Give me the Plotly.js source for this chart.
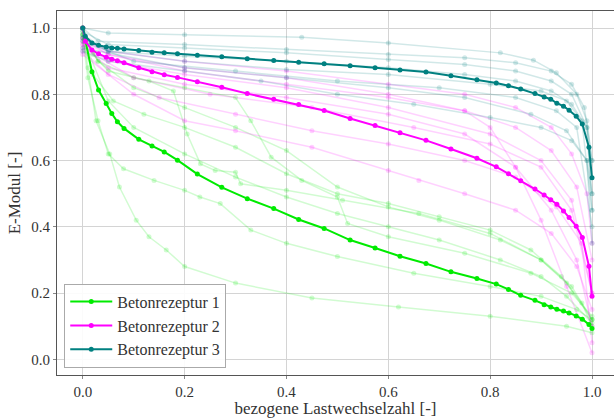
<!DOCTYPE html>
<html>
<head>
<meta charset="utf-8">
<script src="https://cdn.plot.ly/plotly-3.0.1.min.js"></script>
<style>html,body{margin:0;padding:0;background:#fff;}#chart{width:614px;height:418px;}</style>
</head>
<body>
<div id="chart"></div>
<script>
// ---- Mean curves (shared x positions) ----
const mean_x = [0, 0.005, 0.018, 0.031, 0.046, 0.057, 0.068, 0.081, 0.11, 0.136, 0.16, 0.186, 0.225, 0.273, 0.323, 0.375, 0.424, 0.474, 0.525, 0.574, 0.623, 0.674, 0.723, 0.774, 0.812, 0.836, 0.86, 0.888, 0.906, 0.919, 0.931, 0.944, 0.955, 0.969, 0.981, 0.994, 1.0];
const mean1_y = [1.0, 0.964, 0.868, 0.813, 0.772, 0.742, 0.717, 0.697, 0.664, 0.644, 0.626, 0.601, 0.559, 0.519, 0.485, 0.455, 0.422, 0.395, 0.36, 0.336, 0.311, 0.289, 0.264, 0.244, 0.227, 0.211, 0.193, 0.178, 0.165, 0.158, 0.151, 0.146, 0.14, 0.131, 0.121, 0.105, 0.093];
const mean2_y = [1.0, 0.96, 0.934, 0.922, 0.912, 0.906, 0.901, 0.895, 0.88, 0.868, 0.859, 0.851, 0.838, 0.821, 0.802, 0.785, 0.769, 0.751, 0.727, 0.706, 0.684, 0.661, 0.635, 0.607, 0.581, 0.56, 0.539, 0.514, 0.496, 0.482, 0.468, 0.448, 0.428, 0.402, 0.368, 0.281, 0.19];
const mean3_y = [1.0, 0.975, 0.955, 0.948, 0.943, 0.94, 0.939, 0.937, 0.932, 0.927, 0.925, 0.922, 0.918, 0.913, 0.907, 0.902, 0.897, 0.892, 0.886, 0.88, 0.873, 0.867, 0.856, 0.844, 0.834, 0.826, 0.816, 0.802, 0.792, 0.785, 0.773, 0.764, 0.752, 0.734, 0.71, 0.64, 0.548];

const seriesNames = ["Betonrezeptur 1", "Betonrezeptur 2", "Betonrezeptur 3"];
const xTicks = [0.0, 0.2, 0.4, 0.6, 0.8, 1.0];
const yTicks = [0.0, 0.2, 0.4, 0.6, 0.8, 1.0];

// ---- Individual specimens, Betonrezeptur 1 ----
const g1_x = [0, 0.01, 0.026, 0.053, 0.072, 0.105, 0.13, 0.164, 0.2, 0.3, 0.45, 0.62, 0.8, 0.95, 1.0];
const g1_y = [0.98, 0.88, 0.72, 0.62, 0.52, 0.42, 0.37, 0.33, 0.28, 0.23, 0.185, 0.158, 0.13, 0.1, 0.08];
const g2_x = [0, 0.01, 0.03, 0.05, 0.08, 0.14, 0.2, 0.23, 0.27, 0.33, 0.4, 0.5, 0.65, 0.8, 0.9, 0.97, 1.0];
const g2_y = [0.97, 0.85, 0.72, 0.62, 0.575, 0.54, 0.51, 0.49, 0.47, 0.39, 0.35, 0.31, 0.26, 0.22, 0.19, 0.15, 0.12];
const g3_x = [0, 0.02, 0.05, 0.13, 0.178, 0.205, 0.231, 0.26, 0.3, 0.31, 0.4, 0.51, 0.66, 0.8, 0.9, 0.96, 1.0];
const g3_y = [0.98, 0.92, 0.87, 0.84, 0.81, 0.68, 0.59, 0.57, 0.565, 0.53, 0.51, 0.48, 0.44, 0.38, 0.3, 0.22, 0.12];
const g4_x = [0, 0.03, 0.1, 0.2, 0.3, 0.33, 0.37, 0.43, 0.5, 0.52, 0.6, 0.75, 0.88, 0.96, 1.0];
const g4_y = [0.99, 0.9, 0.85, 0.82, 0.79, 0.72, 0.61, 0.54, 0.49, 0.41, 0.37, 0.32, 0.26, 0.2, 0.13];
const g5_x = [0, 0.03, 0.1, 0.2, 0.3, 0.4, 0.5, 0.6, 0.7, 0.82, 0.9, 0.95, 1.0];
const g5_y = [0.98, 0.9, 0.82, 0.76, 0.7, 0.63, 0.52, 0.46, 0.42, 0.36, 0.3, 0.23, 0.12];
const g6_x = [0, 0.05, 0.1, 0.2, 0.3, 0.4, 0.5, 0.6, 0.7, 0.82, 0.9, 0.95, 1.0];
const g6_y = [0.97, 0.78, 0.7, 0.62, 0.55, 0.49, 0.44, 0.4, 0.36, 0.3, 0.25, 0.19, 0.11];
const g7_x = [0, 0.02, 0.06, 0.12, 0.2, 0.3, 0.4, 0.5, 0.6, 0.7, 0.8, 0.88, 0.94, 0.98, 1.0];
const g7_y = [0.96, 0.86, 0.78, 0.74, 0.7, 0.64, 0.56, 0.5, 0.47, 0.43, 0.39, 0.33, 0.25, 0.17, 0.1];

// ---- Individual specimens, Betonrezeptur 2 ----
const m1_x = [0, 0.05, 0.2, 0.4, 0.6, 0.75, 0.85, 0.92, 0.96, 0.99, 1.0];
const m1_y = [0.97, 0.93, 0.9, 0.87, 0.83, 0.8, 0.76, 0.7, 0.62, 0.5, 0.35];
const m2_x = [0, 0.05, 0.2, 0.4, 0.6, 0.75, 0.85, 0.92, 0.97, 1.0];
const m2_y = [0.96, 0.92, 0.88, 0.85, 0.8, 0.75, 0.7, 0.63, 0.52, 0.3];
const m3_x = [0, 0.05, 0.2, 0.4, 0.6, 0.8, 0.9, 0.96, 1.0];
const m3_y = [0.95, 0.9, 0.86, 0.82, 0.76, 0.68, 0.6, 0.48, 0.2];
const m4_x = [0, 0.05, 0.2, 0.4, 0.6, 0.75, 0.85, 0.92, 0.97, 1.0];
const m4_y = [0.95, 0.88, 0.83, 0.79, 0.74, 0.68, 0.58, 0.45, 0.3, 0.1];
const m5_x = [0, 0.1, 0.25, 0.45, 0.65, 0.8, 0.9, 0.96, 1.0];
const m5_y = [0.94, 0.85, 0.8, 0.76, 0.7, 0.65, 0.58, 0.45, 0.2];
const m6_x = [0, 0.05, 0.15, 0.3, 0.45, 0.6, 0.75, 0.85, 0.93, 0.98, 1.0];
const m6_y = [0.93, 0.86, 0.79, 0.74, 0.69, 0.65, 0.6, 0.55, 0.46, 0.35, 0.05];
const m7_x = [0, 0.1, 0.2, 0.3, 0.45, 0.6, 0.66, 0.75, 0.85, 0.92, 0.97, 1.0];
const m7_y = [0.92, 0.8, 0.72, 0.69, 0.64, 0.57, 0.54, 0.5, 0.45, 0.38, 0.28, 0.15];
const m8_x = [0, 0.05, 0.2, 0.4, 0.6, 0.75, 0.8, 0.85, 0.9, 0.95, 1.0];
const m8_y = [0.97, 0.92, 0.87, 0.83, 0.79, 0.75, 0.7, 0.58, 0.42, 0.22, 0.02];

// ---- Individual specimens, Betonrezeptur 3 ----
const t1_x = [0, 0.05, 0.2, 0.43, 0.6, 0.82, 0.885, 0.93, 0.97, 0.99, 1.0];
const t1_y = [1.0, 0.985, 0.98, 0.972, 0.955, 0.925, 0.903, 0.865, 0.8, 0.72, 0.6];
const t2_x = [0, 0.03, 0.2, 0.4, 0.6, 0.75, 0.85, 0.92, 0.96, 0.985, 1.0];
const t2_y = [1.0, 0.96, 0.95, 0.935, 0.92, 0.91, 0.895, 0.87, 0.83, 0.76, 0.6];
const t3_x = [0, 0.05, 0.2, 0.4, 0.6, 0.75, 0.85, 0.92, 0.96, 0.99, 1.0];
const t3_y = [0.99, 0.95, 0.94, 0.925, 0.905, 0.89, 0.87, 0.84, 0.8, 0.7, 0.5];
const t4_x = [0, 0.05, 0.2, 0.4, 0.6, 0.8, 0.9, 0.95, 0.98, 1.0];
const t4_y = [0.98, 0.93, 0.9, 0.875, 0.86, 0.83, 0.81, 0.78, 0.72, 0.45];
const t5_x = [0, 0.05, 0.2, 0.35, 0.5, 0.65, 0.8, 0.9, 0.96, 0.99, 1.0];
const t5_y = [0.93, 0.9, 0.87, 0.84, 0.8, 0.77, 0.73, 0.7, 0.66, 0.6, 0.5];
const t6_x = [0, 0.05, 0.2, 0.4, 0.6, 0.75, 0.85, 0.92, 0.96, 0.99, 1.0];
const t6_y = [0.97, 0.93, 0.915, 0.9, 0.88, 0.86, 0.84, 0.81, 0.77, 0.7, 0.45];
const t7_x = [0, 0.1, 0.3, 0.5, 0.7, 0.85, 0.93, 0.97, 1.0];
const t7_y = [0.96, 0.9, 0.87, 0.84, 0.82, 0.79, 0.75, 0.7, 0.4];
const t8_x = [0, 0.2, 0.4, 0.6, 0.75, 0.88, 0.95, 0.99, 1.0];
const t8_y = [0.94, 0.88, 0.85, 0.82, 0.79, 0.74, 0.69, 0.6, 0.35];

const greenCol = "0,235,0";
const magentaCol = "255,0,255";
const tealCol = "0,128,128";
const serif = "Liberation Serif";

function faint(x, y, rgb) {
  return {
    x: x, y: y, type: "scatter", mode: "lines+markers", showlegend: false, hoverinfo: "skip",
    line: {color: "rgba(" + rgb + ",0.18)", width: 1.5},
    marker: {color: "rgba(" + rgb + ",0.18)", size: 5}
  };
}
function mean(x, y, rgb, name) {
  return {
    x: x, y: y, type: "scatter", mode: "lines+markers", name: name,
    line: {color: "rgb(" + rgb + ")", width: 2},
    marker: {color: "rgb(" + rgb + ")", size: 5}
  };
}

const traces = [
  faint(g1_x, g1_y, greenCol), faint(g2_x, g2_y, greenCol), faint(g3_x, g3_y, greenCol),
  faint(g4_x, g4_y, greenCol), faint(g5_x, g5_y, greenCol), faint(g6_x, g6_y, greenCol),
  faint(g7_x, g7_y, greenCol),
  faint(m1_x, m1_y, magentaCol), faint(m2_x, m2_y, magentaCol), faint(m3_x, m3_y, magentaCol),
  faint(m4_x, m4_y, magentaCol), faint(m5_x, m5_y, magentaCol), faint(m6_x, m6_y, magentaCol),
  faint(m7_x, m7_y, magentaCol), faint(m8_x, m8_y, magentaCol),
  faint(t1_x, t1_y, tealCol), faint(t2_x, t2_y, tealCol), faint(t3_x, t3_y, tealCol),
  faint(t4_x, t4_y, tealCol), faint(t5_x, t5_y, tealCol), faint(t6_x, t6_y, tealCol),
  faint(t7_x, t7_y, tealCol), faint(t8_x, t8_y, tealCol),
  mean(mean_x, mean1_y, greenCol, seriesNames[0]),
  mean(mean_x, mean2_y, magentaCol, seriesNames[1]),
  mean(mean_x, mean3_y, tealCol, seriesNames[2])
];

const layout = {
  width: 614, height: 418,
  margin: {l: 57, r: 0, t: 11, b: 43},
  paper_bgcolor: "#fff", plot_bgcolor: "#fff",
  font: {family: serif, size: 15, color: "#333"},
  xaxis: {
    range: [-0.0506, 1.0432], tickvals: xTicks, ticktext: xTicks.map(v => v.toFixed(1)),
    showgrid: true, gridcolor: "#d4d4d4", gridwidth: 1, zeroline: false,
    showline: true, linecolor: "#555", linewidth: 1, mirror: true,
    ticks: "outside", ticklen: 3, tickcolor: "#888",
    tickfont: {family: serif, size: 15, color: "#333"},
    title: {text: "bezogene Lastwechselzahl [-]", font: {family: serif, size: 17, color: "#333"}, standoff: 2}
  },
  yaxis: {
    range: [-0.0474, 1.0514], tickvals: yTicks, ticktext: yTicks.map(v => v.toFixed(1)),
    showgrid: true, gridcolor: "#d4d4d4", gridwidth: 1, zeroline: false,
    showline: true, linecolor: "#555", linewidth: 1, mirror: false,
    ticks: "outside", ticklen: 3, tickcolor: "#888",
    tickfont: {family: serif, size: 15, color: "#333"},
    title: {text: "E-Modul [-]", font: {family: serif, size: 17, color: "#333"}, standoff: 6}
  },
  showlegend: true,
  legend: {
    x: 0.013, y: 0.02, xanchor: "left", yanchor: "bottom",
    bgcolor: "rgba(255,255,255,0.9)", bordercolor: "#aaa", borderwidth: 1,
    font: {family: serif, size: 16, color: "#333"},
    itemwidth: 42, tracegroupgap: 0
  }
};

Plotly.newPlot("chart", traces, layout, {displayModeBar: false, staticPlot: true});
</script>
</body>
</html>
